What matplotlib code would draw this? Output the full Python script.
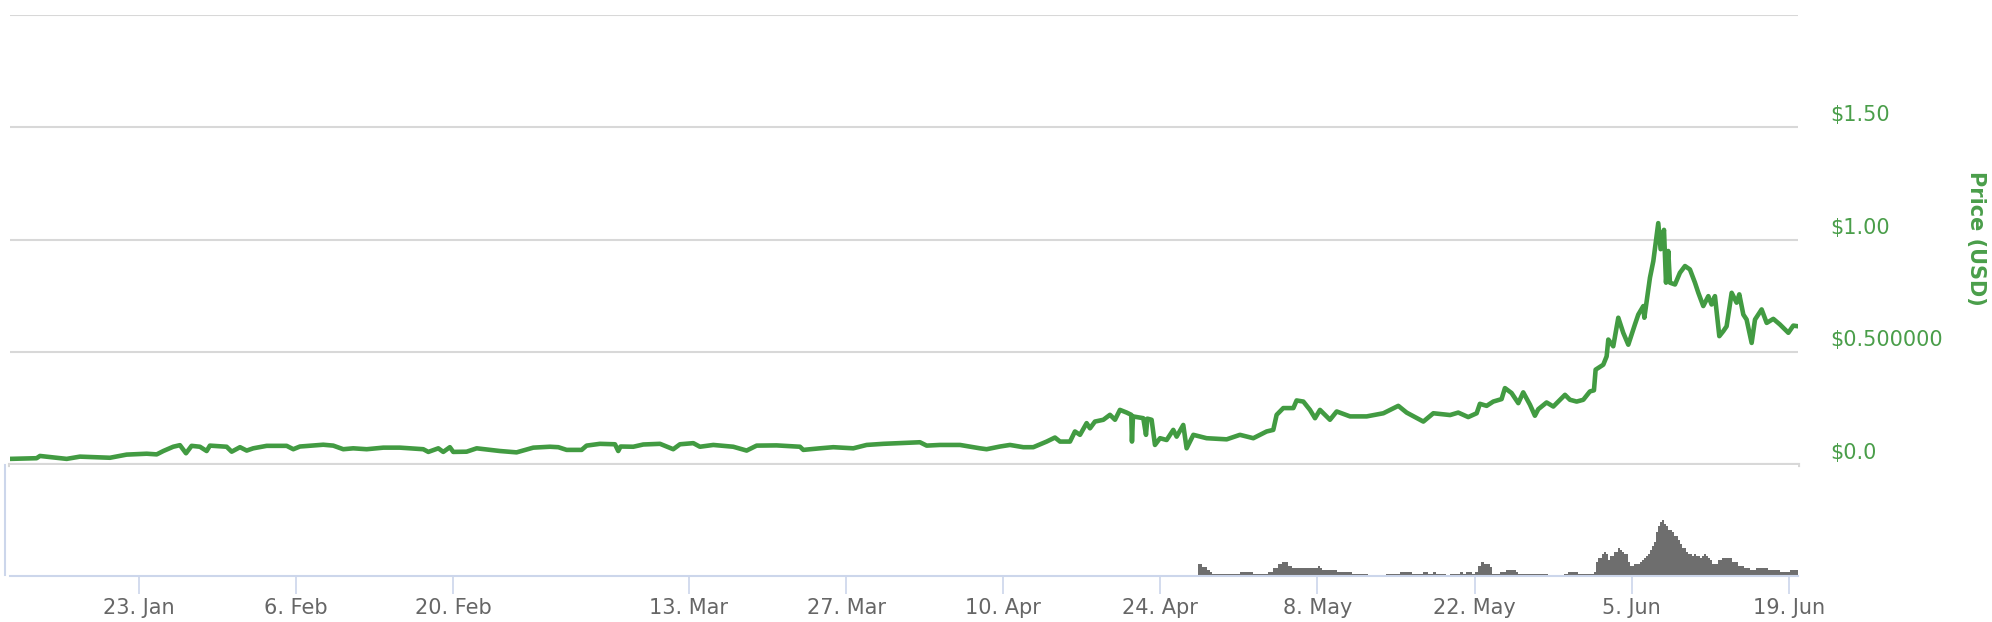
"""
Price (USD) line chart with a volume strip underneath, Jan - Jun 2017.
"""

#####################################
# Import Modules
#####################################

import matplotlib
matplotlib.use("Agg")
import matplotlib.pyplot as plt
from matplotlib.lines import Line2D
import pandas as pd

#####################################
# Declare Global Variables
#####################################

# figure size in pixels
W, H = 1992, 622

# price series: day of 2017 (0 = 1 Jan 00:00) and price in USD
price_day = [
    10.51, 12.88, 13.18, 15.56, 16.74, 19.42, 20.90, 22.69, 23.58, 24.17,
    25.05, 25.65, 26.19, 26.69, 27.43, 28.03, 28.32, 29.81, 30.26, 31.00,
    31.60, 32.18, 33.38, 35.16, 35.75, 36.34, 38.42, 39.31, 40.20, 41.09,
    42.29, 43.77, 45.25, 47.33, 47.78, 48.67, 49.11, 49.70, 50.00, 51.19,
    52.09, 54.16, 55.64, 57.13, 58.61, 59.36, 60.10, 61.44, 61.88, 63.07,
    64.41, 64.70, 64.91, 66.04, 66.93, 68.42, 69.60, 70.20, 71.39, 71.98,
    73.17, 74.95, 76.14, 77.03, 78.81, 80.89, 81.19, 82.67, 83.86, 85.64,
    86.83, 88.32, 89.80, 91.58, 92.18, 93.36, 95.15, 96.93, 97.52, 98.71,
    99.60, 100.79, 101.68, 102.87, 103.61, 104.06, 104.95, 105.39, 105.84, 106.43,
    106.73, 107.17, 107.92, 108.51, 108.96, 109.40, 110.00, 110.41, 110.47, 110.56,
    111.48, 111.72, 111.84, 112.22, 112.52, 112.97, 113.56, 114.15, 114.45, 115.04,
    115.34, 115.94, 117.12, 118.91, 120.09, 121.28, 122.47, 123.06, 123.36, 123.95,
    124.85, 125.14, 125.74, 126.33, 126.78, 127.22, 128.11, 128.71, 129.90, 131.38,
    132.87, 134.20, 134.94, 136.43, 137.32, 138.81, 139.54, 140.43, 141.18, 141.47,
    142.07, 142.66, 143.40, 143.70, 144.29, 144.89, 145.33, 145.93, 146.37, 146.67,
    147.41, 148.01, 149.05, 149.49, 150.09, 150.68, 151.27, 151.63, 151.78, 152.46,
    152.76, 152.91, 153.35, 153.80, 154.24, 154.69, 155.28, 155.58, 156.03, 156.12,
    156.62, 156.92, 157.36, 157.57, 157.87, 158.05, 158.25, 158.40, 158.85, 159.29,
    159.74, 160.18, 160.63, 160.93, 161.37, 161.82, 162.11, 162.41, 162.80, 163.15,
    163.45, 163.90, 164.34, 164.58, 164.94, 165.23, 165.68, 165.98, 166.57, 167.02,
    167.61, 168.20, 168.95, 169.39, 169.81,
]
price_usd = [
    0.025, 0.028, 0.038, 0.025, 0.035, 0.030, 0.044, 0.048, 0.045, 0.060,
    0.079, 0.086, 0.050, 0.083, 0.079, 0.060, 0.084, 0.079, 0.057, 0.077,
    0.062, 0.072, 0.083, 0.083, 0.068, 0.080, 0.088, 0.084, 0.068, 0.072,
    0.068, 0.075, 0.075, 0.068, 0.056, 0.072, 0.056, 0.077, 0.056, 0.057,
    0.072, 0.060, 0.054, 0.075, 0.079, 0.077, 0.065, 0.065, 0.084, 0.092,
    0.090, 0.060, 0.080, 0.079, 0.089, 0.092, 0.068, 0.090, 0.095, 0.079,
    0.087, 0.079, 0.062, 0.084, 0.085, 0.079, 0.065, 0.072, 0.077, 0.072,
    0.087, 0.092, 0.095, 0.099, 0.084, 0.087, 0.087, 0.072, 0.068, 0.080,
    0.087, 0.077, 0.077, 0.102, 0.120, 0.102, 0.102, 0.147, 0.132, 0.184,
    0.161, 0.191, 0.199, 0.221, 0.199, 0.243, 0.231, 0.221, 0.102, 0.214,
    0.206, 0.132, 0.204, 0.199, 0.087, 0.117, 0.109, 0.154, 0.124, 0.176,
    0.072, 0.132, 0.117, 0.112, 0.132, 0.117, 0.147, 0.154, 0.221, 0.251,
    0.251, 0.285, 0.280, 0.243, 0.206, 0.243, 0.199, 0.236, 0.214, 0.214,
    0.228, 0.261, 0.231, 0.191, 0.228, 0.220, 0.231, 0.211, 0.228, 0.270,
    0.261, 0.280, 0.291, 0.340, 0.318, 0.273, 0.321, 0.266, 0.217, 0.246,
    0.276, 0.258, 0.310, 0.288, 0.280, 0.288, 0.325, 0.330, 0.422, 0.444,
    0.481, 0.556, 0.526, 0.653, 0.586, 0.533, 0.623, 0.667, 0.705, 0.653,
    0.831, 0.905, 1.074, 0.958, 1.044, 0.809, 0.950, 0.809, 0.801, 0.853,
    0.883, 0.868, 0.809, 0.764, 0.705, 0.749, 0.712, 0.749, 0.571, 0.593,
    0.615, 0.764, 0.720, 0.757, 0.667, 0.645, 0.541, 0.645, 0.690, 0.630,
    0.648, 0.623, 0.586, 0.618, 0.615,
]

# volume (no scale on the chart, relative units): step start day and height
vol_day = [
    116.38, 116.67, 117.12, 117.42, 117.56, 120.09, 121.28, 122.61, 123.06, 123.50,
    123.86, 124.34, 124.69, 127.07, 127.22, 127.37, 128.70, 130.04, 131.46, 133.10,
    134.35, 135.38, 136.42, 136.81, 137.31, 137.52, 138.41, 138.80, 139.69, 139.99,
    140.23, 140.73, 141.03, 141.32, 141.53, 141.86, 142.36, 142.51, 143.26, 143.79,
    144.69, 144.89, 147.51, 148.96, 149.35, 150.24, 151.67, 151.84, 152.02, 152.38,
    152.56, 152.73, 152.91, 153.09, 153.45, 153.80, 153.98, 154.16, 154.34, 154.69,
    154.87, 155.23, 155.76, 155.94, 156.12, 156.30, 156.48, 156.65, 156.83, 157.01,
    157.19, 157.37, 157.55, 157.72, 157.90, 158.08, 158.26, 158.62, 158.79, 159.15,
    159.33, 159.51, 159.86, 160.04, 160.40, 160.58, 160.75, 161.11, 161.29, 161.47,
    161.64, 161.82, 162.00, 162.18, 162.71, 163.07, 163.96, 164.50, 165.03, 165.57,
    166.10, 167.17, 168.24, 169.13, 169.84,
]
vol_height = [
    12, 9.3, 6, 3.7, 2, 4, 2, 4, 7.7, 11.7,
    13.7, 10, 7.7, 10, 7.7, 5.7, 4, 2, 0, 2,
    4, 2, 4, 2, 4, 2, 0, 2, 4, 2,
    4, 2, 4, 10, 13.7, 12, 9.3, 2, 4, 6,
    4, 2, 0, 2, 4, 2, 4, 14, 18, 22,
    24, 22, 16, 20, 24, 28, 26, 24, 22, 14,
    10, 12, 14, 16, 18, 20, 22, 26, 30, 34,
    44, 50, 54, 56, 52, 50, 46, 44, 40, 36,
    32, 28, 24, 22, 20, 22, 20, 18, 20, 22,
    20, 18, 16, 12, 16, 18, 14, 10, 8, 6,
    8, 6, 4, 6, 6,
]

# axis ticks and labels
tick_dates = ["2017-01-23", "2017-02-06", "2017-02-20", "2017-03-13", "2017-03-27",
              "2017-04-10", "2017-04-24", "2017-05-08", "2017-05-22", "2017-06-05",
              "2017-06-19"]
tick_labels = ["23. Jan", "6. Feb", "20. Feb", "13. Mar", "27. Mar", "10. Apr",
               "24. Apr", "8. May", "22. May", "5. Jun", "19. Jun"]
price_ticks = [0.0, 0.5, 1.0, 1.5, 2.0]
price_labels = ["$0.0", "$0.500000", "$1.00", "$1.50", ""]

# colours
GREEN = "#429b42"
LABEL_GREEN = "#4a9e4a"
GRID = "#d8d8d8"
AXIS = "#ccd6eb"
VOL = "#6e6e6e"

#####################################
# Define Functions
#####################################

def to_dates(days):
    """Turn day-of-2017 floats into timestamps."""
    return pd.Timestamp("2017-01-01") + pd.to_timedelta(days, unit="D")


def box(left, top, right, bottom):
    """Axes rectangle from pixel edges."""
    return [left / W, 1 - bottom / H, (right - left) / W, (bottom - top) / H]


def make_chart(output_path: str):
    fig = plt.figure(figsize=(W / 100, H / 100), dpi=100)
    xmin, xmax = to_dates([10.51, 169.81])

    # price panel
    ax = fig.add_axes(box(10, 15, 1798, 464.5))
    for v in price_ticks[1:]:
        ax.axhline(v, color=GRID, lw=1.5, zorder=1)
    ax.axhline(0, color=GRID, lw=3, zorder=1, clip_on=False)
    ax.plot(to_dates(price_day), price_usd, color=GREEN, lw=3.3,
            solid_joinstyle="round", solid_capstyle="round", zorder=3)
    ax.set_xlim(xmin, xmax)
    ax.set_ylim(0, 2.0)
    ax.axis("off")

    for v, lab in zip(price_ticks, price_labels):
        ax.annotate(lab, xy=(1.0, v), xycoords=("axes fraction", "data"),
                    xytext=(23, 8.6), textcoords="offset points",
                    ha="left", va="center", color=LABEL_GREEN, fontsize=15)

    fig.text(1976 / W, 1 - 238 / H, "Price (USD)", rotation=270,
             ha="center", va="center", color=LABEL_GREEN, fontsize=15,
             fontweight="bold")

    # volume panel
    vax = fig.add_axes(box(10, 465, 1798, 576))
    vax.fill_between(to_dates(vol_day), vol_height, step="post",
                     color=VOL, lw=0)
    vax.set_xlim(xmin, xmax)
    vax.set_ylim(0, 111)
    for side in ["top", "right", "left"]:
        vax.spines[side].set_visible(False)
    vax.spines["bottom"].set_color(AXIS)
    vax.spines["bottom"].set_linewidth(1.5)
    vax.set_yticks([])
    vax.set_xticks(pd.to_datetime(tick_dates))
    vax.set_xticklabels(tick_labels)
    vax.tick_params(axis="x", direction="out", length=13, width=1.2,
                    color=AXIS, labelcolor="#666666", labelsize=15, pad=3)

    # thin left axis line of the volume strip
    fig.add_artist(Line2D([5 / W, 5 / W], [1 - 465 / H, 1 - 575 / H],
                          color=AXIS, lw=1.5))

    fig.savefig(output_path, dpi=100)
    plt.close(fig)

#####################################
# Main Execution
#####################################

if __name__ == "__main__":
    make_chart("out.png")
